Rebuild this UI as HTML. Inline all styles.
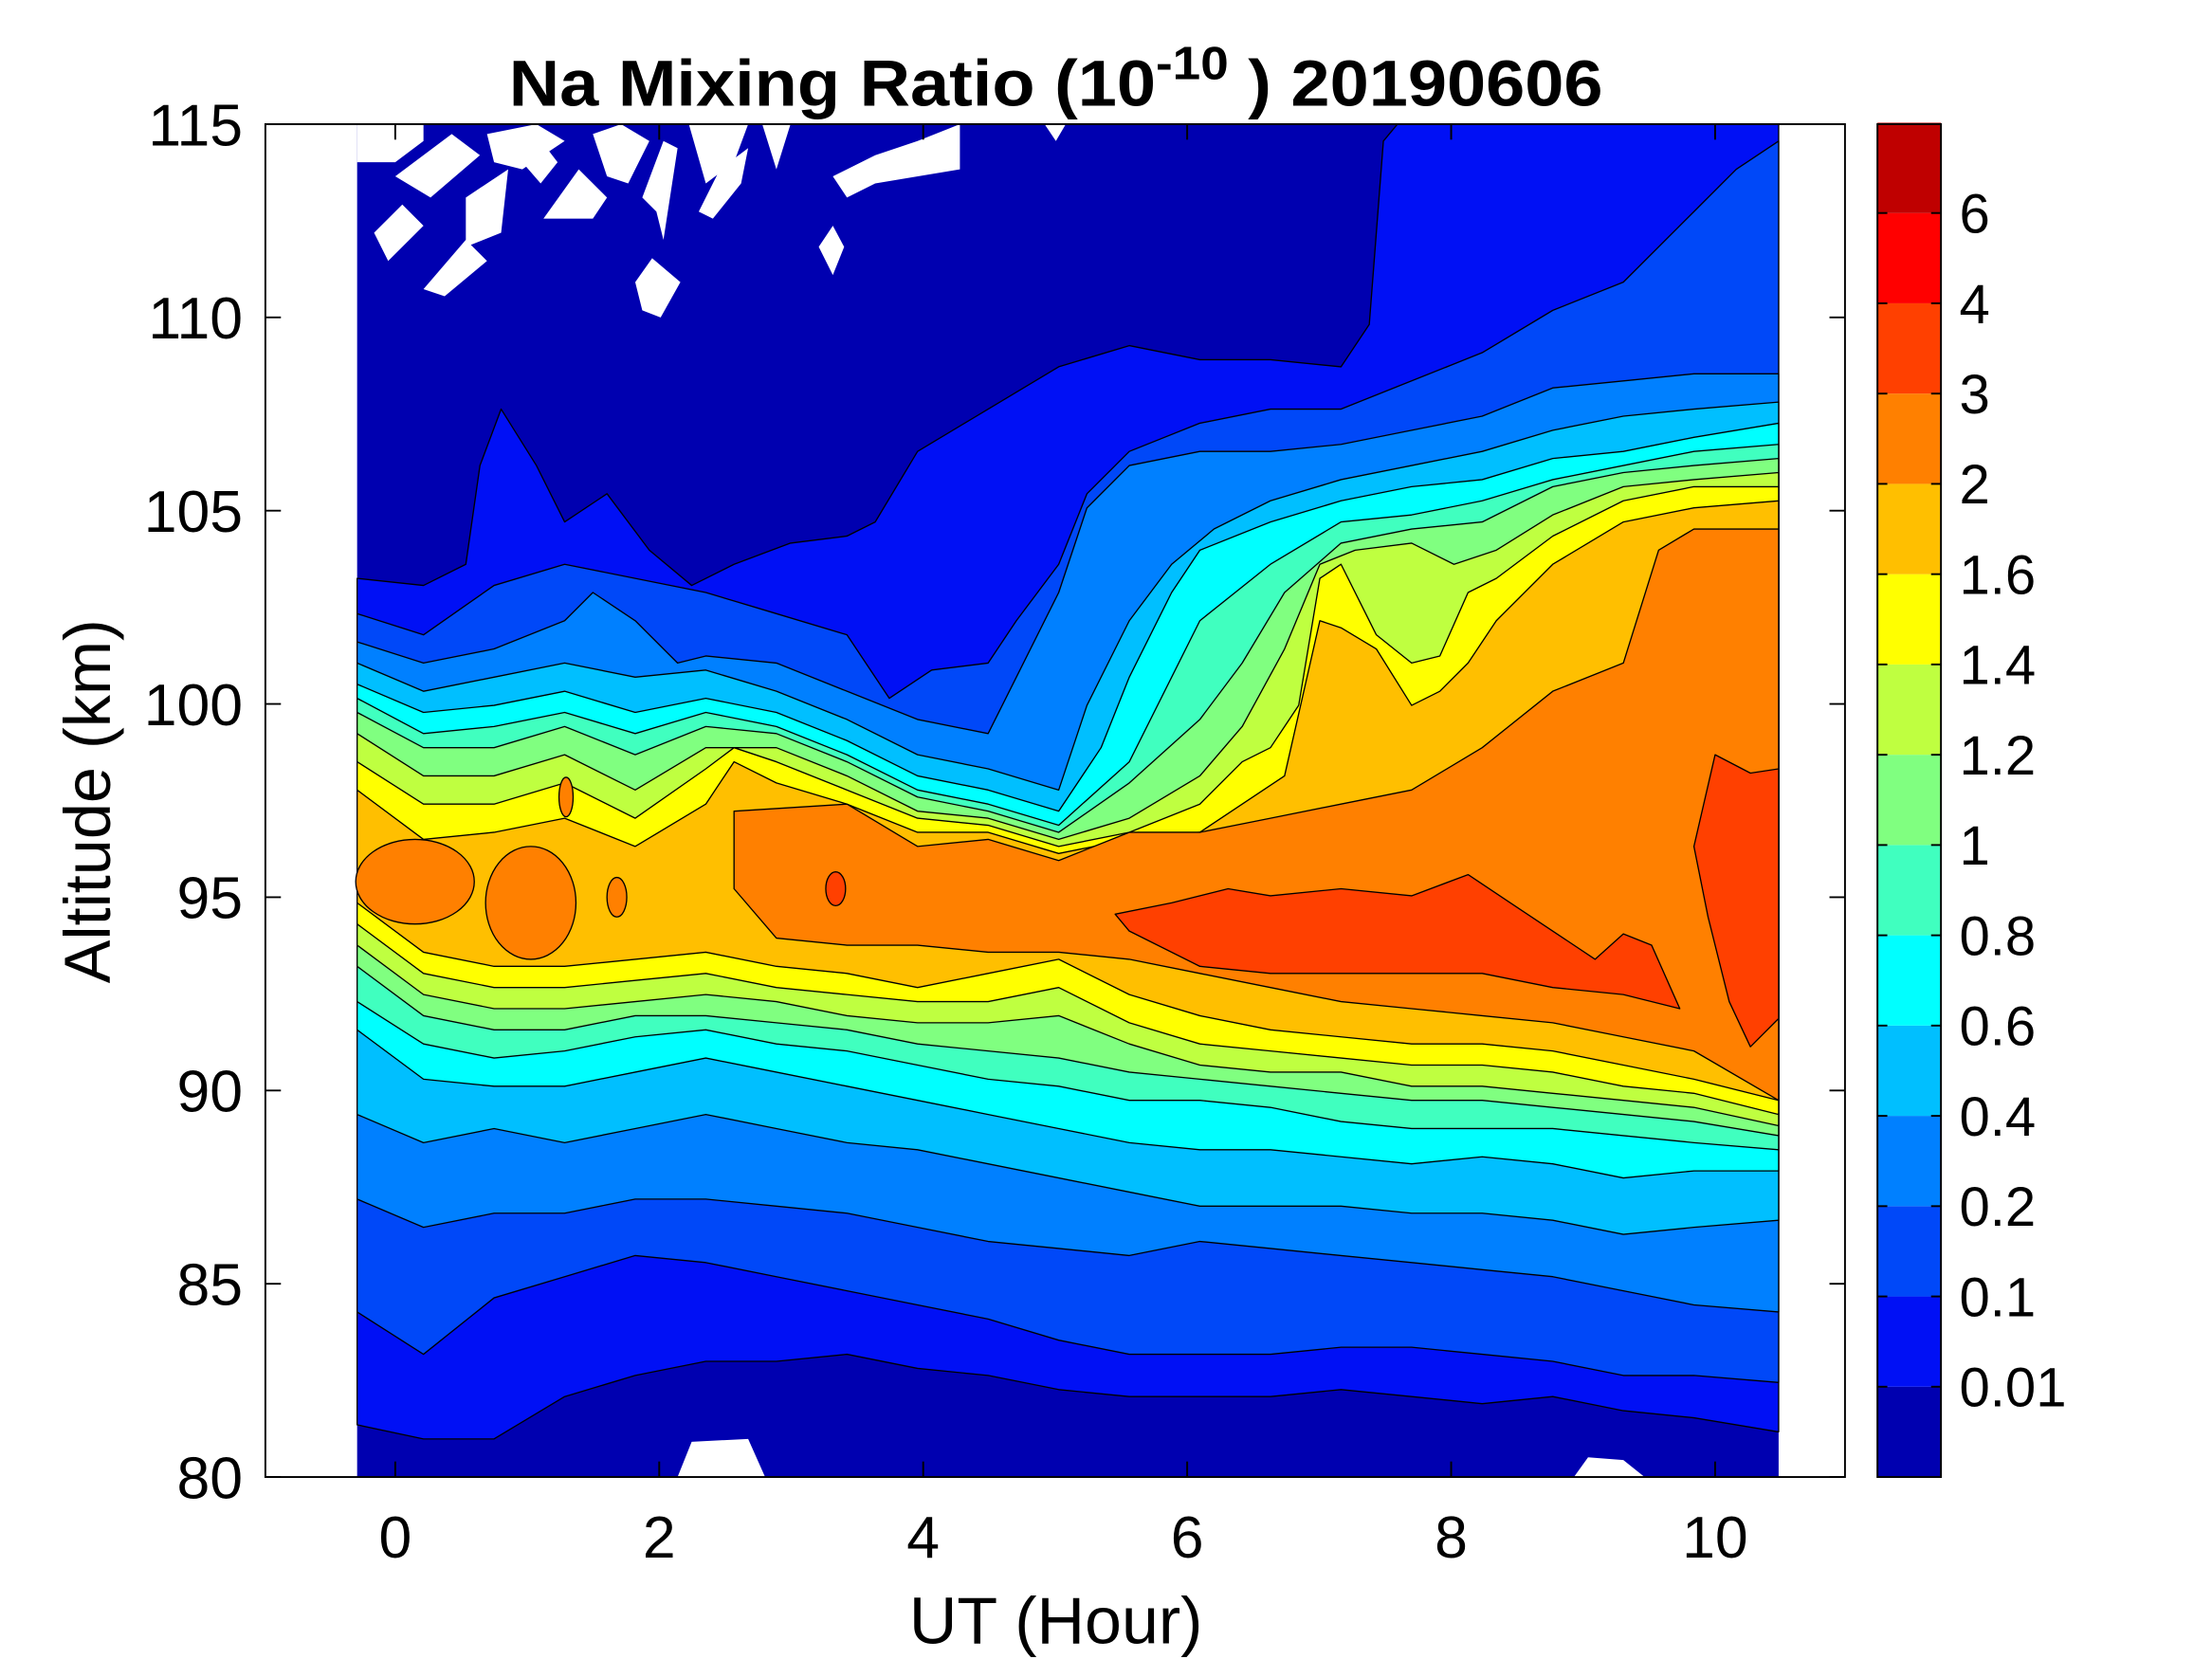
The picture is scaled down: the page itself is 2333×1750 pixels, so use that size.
<!DOCTYPE html>
<html><head><meta charset="utf-8">
<style>html,body{margin:0;padding:0;background:#fff}svg{display:block}</style></head>
<body>
<svg id="s" xmlns="http://www.w3.org/2000/svg" width="2333" height="1750" viewBox="0 0 1567 1176" preserveAspectRatio="none" font-family="Liberation Sans, Arial, sans-serif">
<rect width="1567" height="1176" fill="#fff"/>
<g id="data"></g>
<g id="axes" fill="none" stroke="#000" stroke-width="1.3"></g>
<text x="748" y="75" text-anchor="middle" font-size="46" font-weight="bold" textLength="775" lengthAdjust="spacingAndGlyphs">Na Mixing Ratio (10<tspan dy="-19" font-size="33">-10</tspan><tspan dy="19"> ) 20190606</tspan></text>
<text x="748" y="1165" text-anchor="middle" font-size="47">UT (Hour)</text>
<text transform="translate(78,568) rotate(-90)" text-anchor="middle" font-size="46">Altitude (km)</text>
<g id="labels" font-size="39"></g>
<g id="tlabels" font-size="42"></g>
</svg>
<script>
const NS="http://www.w3.org/2000/svg";
const data=document.getElementById('data'),axes=document.getElementById('axes'),labels=document.getElementById('labels'),tl=document.getElementById('tlabels');
function el(t,a,p){const e=document.createElementNS(NS,t);for(const k in a)e.setAttribute(k,a[k]);(p||data).appendChild(e);return e;}
const cols=['#0000b0','#0010f5','#0048f8','#0080ff','#00bfff','#00ffff','#40ffbf','#80ff80','#bfff40','#ffff00','#ffbf00','#ff8000','#ff4000','#ff0000','#bf0000'];
el('rect',{x:253,y:88,width:1007,height:959,fill:cols[0]});
const X=[253,300,350,400,450,500,550,600,650,700,750,800,850,900,950,1000,1050,1100,1150,1200,1260];
function zip(a){return X.map((x,i)=>[x,a[i]]);}
const bots={
1:zip([1010,1020,1020,990,975,965,965,960,970,975,985,990,990,990,985,990,995,990,1000,1005,1015]),
2:zip([930,960,920,905,890,895,905,915,925,935,950,960,960,960,955,955,960,965,975,975,980]),
3:zip([850,870,860,860,850,850,855,860,870,880,885,890,880,885,890,895,900,905,915,925,930]),
4:zip([790,810,800,810,800,790,800,810,815,825,835,845,855,855,855,860,860,865,875,870,865]),
5:zip([730,765,770,770,760,750,760,770,780,790,800,810,815,815,820,825,820,825,835,830,830]),
6:zip([710,740,750,745,735,730,740,745,755,765,770,780,780,785,795,800,800,800,805,810,815]),
7:zip([685,720,730,730,720,720,725,730,740,745,750,760,765,770,775,780,780,785,790,795,805]),
8:zip([670,705,715,715,710,705,710,720,725,725,720,740,755,760,760,770,770,775,780,785,798]),
9:zip([655,690,700,700,695,690,700,705,710,710,700,725,740,745,750,755,755,760,770,775,790]),
10:zip([640,675,685,685,680,675,685,690,700,690,680,705,720,730,735,740,740,745,755,765,780])};
const tops={
1:[[253,410],[300,415],[330,400],[340,330],[355,290],[380,330],[400,370],[430,350],[460,390],[490,415],[520,400],[560,385],[600,380],[620,370],[650,320],[700,290],[750,260],[800,245],[850,255],[900,255],[950,260],[970,230],[980,100],[990,88],[1260,88]],
2:[[253,435],[300,450],[350,415],[400,400],[450,410],[500,420],[550,435],[600,450],[630,495],[660,475],[700,470],[720,440],[750,400],[770,350],[800,320],[850,300],[900,290],[950,290],[1000,270],[1050,250],[1100,220],[1150,200],[1200,150],[1230,120],[1260,100]],
3:[[253,455],[300,470],[350,460],[400,440],[420,420],[450,440],[480,470],[500,465],[550,470],[600,490],[650,510],[700,520],[720,480],[750,420],[770,360],[800,330],[850,320],[900,320],[950,315],[1000,305],[1050,295],[1100,275],[1150,270],[1200,265],[1260,265]],
4:[[253,470],[300,490],[350,480],[400,470],[450,480],[500,475],[550,490],[600,510],[650,535],[700,545],[750,560],[770,500],[800,440],[830,400],[860,375],[900,355],[950,340],[1000,330],[1050,320],[1100,305],[1150,295],[1200,290],[1260,285]],
5:[[253,485],[300,505],[350,500],[400,490],[450,505],[500,495],[550,505],[600,525],[650,550],[700,560],[750,575],[780,530],[800,480],[830,420],[850,390],[900,370],[950,355],[1000,345],[1050,340],[1100,325],[1150,320],[1200,310],[1260,300]],
6:[[253,495],[300,520],[350,515],[400,505],[450,520],[500,505],[550,515],[600,535],[650,560],[700,570],[750,585],[800,540],[830,480],[850,440],[900,400],[950,370],[1000,365],[1050,355],[1100,340],[1150,330],[1200,320],[1260,315]],
7:[[253,505],[300,530],[350,530],[400,515],[450,535],[500,515],[550,520],[600,540],[650,565],[700,575],[750,590],[800,555],[850,510],[880,470],[910,420],[950,385],[1000,375],[1050,370],[1100,345],[1150,335],[1200,330],[1260,325]],
8:[[253,520],[300,550],[350,550],[400,535],[450,560],[500,530],[550,530],[600,550],[650,575],[700,580],[750,595],[800,580],[850,550],[880,515],[910,460],[935,400],[960,390],[1000,385],[1030,400],[1060,390],[1100,365],[1150,345],[1200,340],[1260,335]],
9:[[253,540],[300,570],[350,570],[400,555],[450,580],[500,545],[520,530],[550,540],[600,560],[650,580],[700,585],[750,600],[800,590],[850,570],[880,540],[900,530],[920,500],[935,410],[950,400],[975,450],[1000,470],[1020,465],[1040,420],[1060,410],[1100,380],[1150,355],[1200,345],[1260,345]],
10:[[253,560],[300,595],[350,590],[400,580],[450,600],[500,570],[520,540],[550,555],[600,570],[650,590],[700,590],[750,605],[800,595],[850,590],[880,570],[910,550],[935,440],[950,445],[975,460],[1000,500],[1020,490],[1040,470],[1060,440],[1100,400],[1150,370],[1200,360],[1260,355]]};
function poly(pts,c){el('polygon',{points:pts.map(p=>p.join(',')).join(' '),fill:c,stroke:'#000','stroke-width':0.9,'stroke-linejoin':'round'});}
for(let k=1;k<=10;k++){poly(tops[k].concat(bots[k].slice().reverse()),cols[k]);}
poly([[520,575],[600,570],[650,600],[700,595],[750,610],[800,590],[850,590],[900,580],[950,570],[1000,560],[1050,530],[1100,490],[1150,470],[1175,390],[1200,375],[1260,375],[1260,780],[1200,745],[1150,735],[1100,725],[1050,720],[1000,715],[950,710],[900,700],[850,690],[800,680],[750,675],[700,675],[650,670],[600,670],[550,665],[520,630]],cols[11]);
el('ellipse',{cx:294,cy:625,rx:42,ry:30,fill:cols[11],stroke:'#000','stroke-width':0.9});
el('ellipse',{cx:376,cy:640,rx:32,ry:40,fill:cols[11],stroke:'#000','stroke-width':0.9});
el('ellipse',{cx:437,cy:636,rx:7,ry:14,fill:cols[11],stroke:'#000','stroke-width':0.9});
el('ellipse',{cx:401,cy:565,rx:5,ry:14,fill:cols[11],stroke:'#000','stroke-width':0.9});
poly([[790,648],[830,640],[870,630],[900,635],[950,630],[1000,635],[1040,620],[1070,640],[1100,660],[1130,680],[1150,662],[1170,670],[1190,715],[1150,705],[1100,700],[1050,690],[1000,690],[950,690],[900,690],[850,685],[800,660]],cols[12]);
poly([[1200,600],[1215,535],[1240,548],[1260,545],[1260,722],[1240,742],[1225,710],[1210,650]],cols[12]);
el('ellipse',{cx:592,cy:630,rx:7,ry:12,fill:cols[12],stroke:'#000','stroke-width':0.9});
const W=[[[253,88],[300,88],[300,100],[280,115],[253,115]],[[265,165],[285,145],[300,160],[275,185]],[[300,205],[330,170],[345,185],[315,210]],[[280,125],[320,95],[340,110],[305,140]],[[330,140],[360,120],[355,165],[330,175]],[[345,95],[380,88],[400,100],[370,120],[350,115]],[[370,115],[385,102],[395,115],[383,130]],[[385,155],[410,120],[430,140],[420,155]],[[420,95],[440,88],[460,100],[445,130],[430,125]],[[455,140],[470,100],[480,105],[470,170],[465,150]],[[495,150],[510,120],[530,105],[525,130],[505,155]],[[488,88],[530,88],[520,115],[500,130]],[[540,88],[560,88],[550,120]],[[590,125],[620,110],[650,100],[680,88],[680,120],[620,130],[600,140]],[[580,175],[590,160],[598,175],[590,195]],[[450,200],[462,183],[482,200],[468,225],[455,220]],[[740,88],[755,88],[748,100]],[[480,1047],[490,1022],[530,1020],[542,1047]],[[1115,1047],[1125,1033],[1150,1035],[1165,1047]]];
W.forEach(p=>el('polygon',{points:p.map(q=>q.join(',')).join(' '),fill:'#fff'}));
for(let i=0;i<15;i++){el('rect',{x:1330,y:1047-64*(i+1),width:45,height:64,fill:cols[i]});}
el('rect',{x:1330,y:88,width:45,height:959,fill:'none',stroke:'#000','stroke-width':1.3});
const cl=['0.01','0.1','0.2','0.4','0.6','0.8','1','1.2','1.4','1.6','2','3','4','6'];
cl.forEach((t,i)=>{const y=1047-64*(i+1);const tx=el('text',{x:1388,y:y+14},labels);tx.textContent=t;el('line',{x1:1330,x2:1337,y1:y,y2:y},axes);el('line',{x1:1368,x2:1375,y1:y,y2:y},axes);});
el('rect',{x:188,y:88,width:1119,height:959},axes);
for(let h=0;h<=10;h+=2){const x=280+93.5*h;el('line',{x1:x,x2:x,y1:1047,y2:1036},axes);el('line',{x1:x,x2:x,y1:88,y2:99},axes);const t=el('text',{x:x,y:1104,'text-anchor':'middle'},tl);t.textContent=h;}
for(let a=80;a<=115;a+=5){const y=88+(115-a)*27.4;el('line',{x1:188,x2:199,y1:y,y2:y},axes);el('line',{x1:1296,x2:1307,y1:y,y2:y},axes);const t=el('text',{x:172,y:y+15,'text-anchor':'end'},tl);t.textContent=a;}
</script>
</body></html>
